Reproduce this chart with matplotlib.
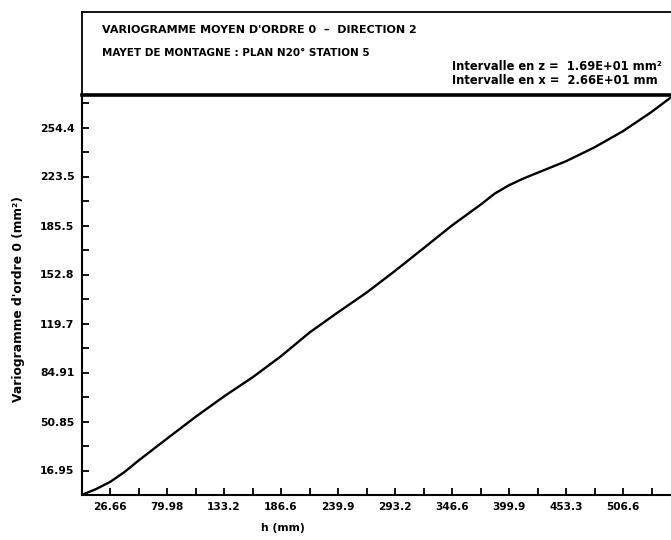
import matplotlib
matplotlib.use("Agg")
import matplotlib.pyplot as plt
from matplotlib.lines import Line2D

# Mean order-0 variogram, direction 2
lag_h = [0.0, 13.33, 26.66, 40.0, 53.32, 79.98, 106.6, 133.3, 160.0, 186.6,
         213.3, 239.9, 266.6, 293.2, 319.9, 346.6, 373.2, 386.5, 399.9, 413.2,
         426.5, 453.2, 479.8, 506.5, 533.2, 550.5]
gamma = [0.0, 4.0, 9.0, 15.8, 23.8, 39.0, 54.0, 68.2, 81.4, 96.0,
         112.4, 126.4, 140.0, 155.0, 170.7, 186.5, 200.8, 208.5, 214.3, 218.9,
         222.9, 230.9, 240.5, 251.7, 265.0, 274.6]

x_step = 26.66
y_step = 16.95
x_tick_labels = ["26.66", "79.98", "133.2", "186.6", "239.9", "293.2",
                 "346.6", "399.9", "453.3", "506.6"]
y_tick_labels = ["16.95", "50.85", "84.91", "119.7", "152.8", "185.5",
                 "223.5", "254.4"]

title_1 = "VARIOGRAMME MOYEN D'ORDRE 0  \u2013  DIRECTION 2"
title_2 = "MAYET DE MONTAGNE : PLAN N20\u00b0 STATION 5"
info_z = "Intervalle en z =  1.69E+01 mm\u00b2"
info_x = "Intervalle en x =  2.66E+01 mm"
x_label = "h (mm)"
y_label = "Variogramme d'ordre 0 (mm\u00b2)"

font = dict(family="DejaVu Sans", weight="bold")

W, H = 671, 540
fig = plt.figure(figsize=(W / 100, H / 100), dpi=100)

def fx(px):
    return px / W

def fy(py):
    return 1 - py / H

left, right, bottom, top = 81.5, 671, 495, 95
ax = fig.add_axes([fx(left), fy(bottom), fx(right - left), fy(top) - fy(bottom)])

ax.plot(lag_h, gamma, color="black", lw=1.7, solid_capstyle="round",
        solid_joinstyle="round")

ax.set_xlim(0, (right - left) / 28.5 * x_step)
ax.set_ylim(0, (bottom - top) / 24.5 * y_step)

n_x = len(x_tick_labels)
n_y = len(y_tick_labels)
ax.set_xticks([x_step * (2 * i + 1) for i in range(n_x)])
ax.set_xticklabels(x_tick_labels, fontsize=7.6, **font)
ax.set_xticks([x_step * 2 * i for i in range(1, n_x + 1)], minor=True)
ax.set_yticks([y_step * (2 * i + 1) for i in range(n_y)])
ax.set_yticklabels(y_tick_labels, fontsize=7.8, **font)
ax.set_yticks([y_step * 2 * i for i in range(1, n_y + 1)], minor=True)

ax.tick_params(which="both", direction="in", length=5, width=1.3,
               color="black", pad=5)
for side in ("top", "right"):
    ax.spines[side].set_visible(False)
for side in ("left", "bottom"):
    ax.spines[side].set_linewidth(1.5)

ax.set_xlabel(x_label, fontsize=7.8, va="center", **font)
ax.xaxis.set_label_coords((283 - left) / (right - left), -(528 - bottom) / (bottom - top))
ax.set_ylabel(y_label, fontsize=8.8, va="center", **font)
ax.yaxis.set_label_coords((19 - left) / (right - left), 0.49)

# Header frame
fig.add_artist(Line2D([fx(left), 1.0], [fy(12), fy(12)], color="black", lw=1.3))
fig.add_artist(Line2D([fx(left), fx(left)], [fy(12), fy(top)], color="black", lw=1.3))
fig.add_artist(Line2D([fx(left), 1.0], [fy(top), fy(top)], color="black", lw=2.6))

fig.text(fx(102), fy(30), title_1, fontsize=8.0, va="center", ha="left", **font)
fig.text(fx(102), fy(53), title_2, fontsize=7.5, va="center", ha="left", **font)
fig.text(fx(452), fy(67), info_z, fontsize=8.3, va="center", ha="left", **font)
fig.text(fx(452), fy(81), info_x, fontsize=8.3, va="center", ha="left", **font)

fig.savefig("out.png", dpi=100, facecolor="white")
